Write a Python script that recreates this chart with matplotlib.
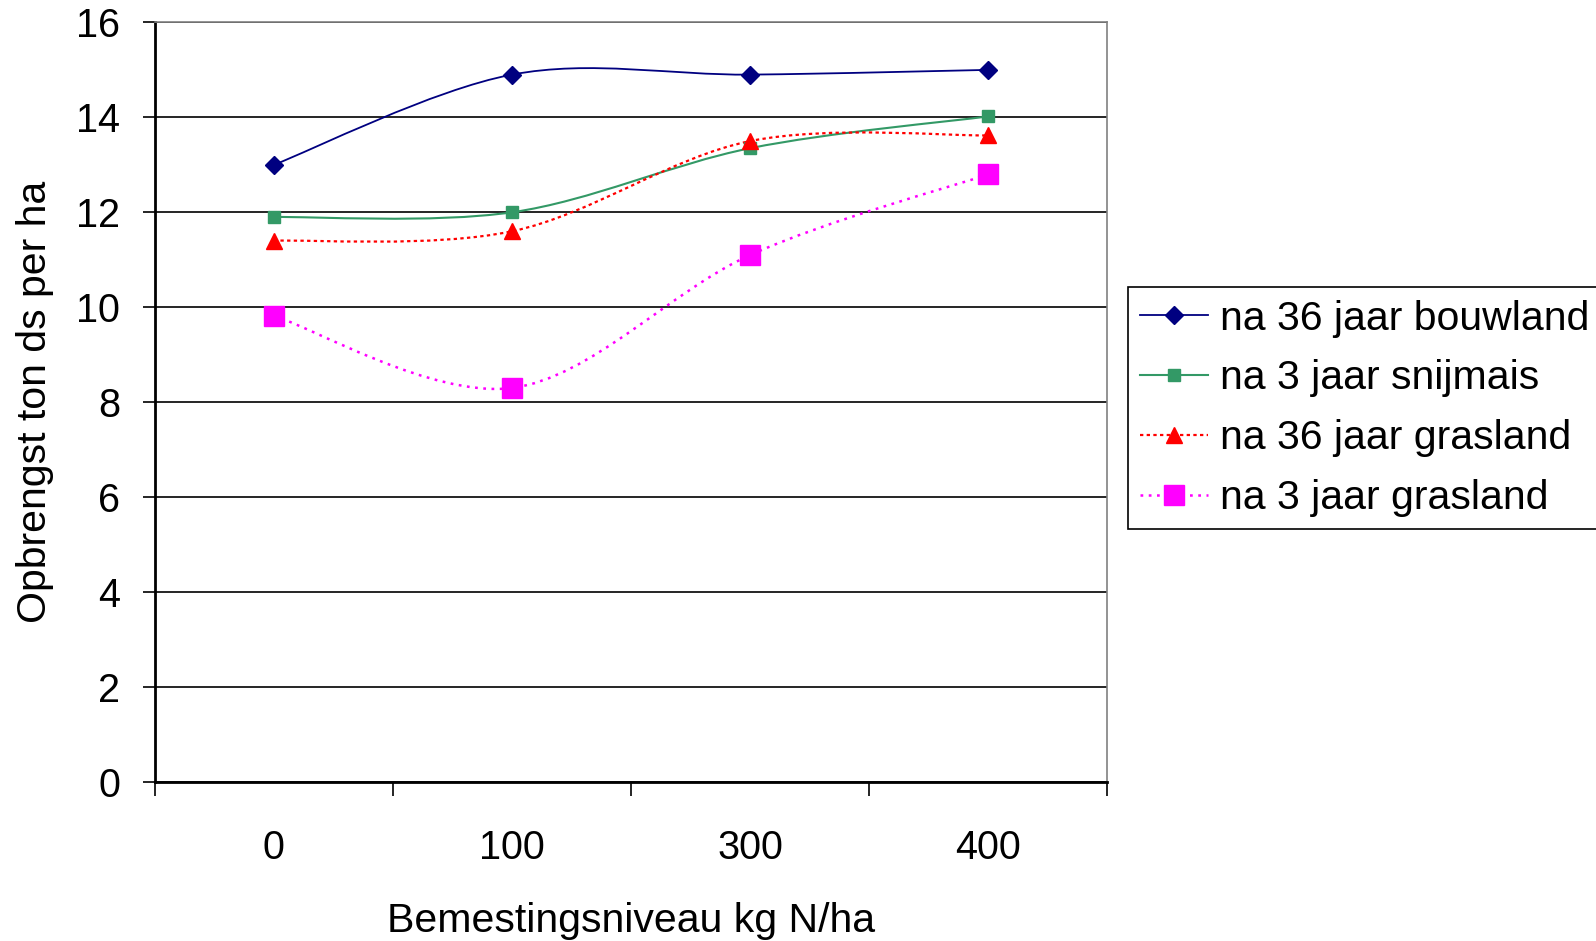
import matplotlib.pyplot as plt
from matplotlib.path import Path
from matplotlib.patches import PathPatch
from matplotlib.lines import Line2D

plt.rcParams['font.family'] = ['Liberation Sans', 'DejaVu Sans']

categories = ['0', '100', '300', '400']
bouwland_36 = [13.0, 14.9, 14.9, 15.0]
snijmais_3 = [11.9, 12.0, 13.35, 14.02]
grasland_36 = [11.4, 11.6, 13.5, 13.62]
grasland_3 = [9.82, 8.3, 11.1, 12.8]
labels = ['na 36 jaar bouwland', 'na 3 jaar snijmais', 'na 36 jaar grasland', 'na 3 jaar grasland']


def smoothPath(xs, ys):
    # excel-like smoothed line: cubic bezier through the points
    pts = list(zip(xs, ys))
    n = len(pts)
    verts = [pts[0]]
    codes = [Path.MOVETO]
    for i in range(n - 1):
        p0 = pts[max(i - 1, 0)]
        p1 = pts[i]
        p2 = pts[i + 1]
        p3 = pts[min(i + 2, n - 1)]
        c1 = (p1[0] + (p2[0] - p0[0]) / 6, p1[1] + (p2[1] - p0[1]) / 6)
        c2 = (p2[0] - (p3[0] - p1[0]) / 6, p2[1] - (p3[1] - p1[1]) / 6)
        verts += [c1, c2, p2]
        codes += [Path.CURVE4] * 3
    return Path(verts, codes)


fig = plt.figure(figsize=(15.96, 9.41), dpi=100)
ax = fig.add_axes([0.0969, 0.169, 0.597, 0.8072])

x = list(range(len(categories)))
series = [
    (bouwland_36, '#000080', '-', 'D', 9, 1.3),
    (snijmais_3, '#339966', '-', 's', 9, 1.5),
    (grasland_36, '#ff0000', (0, (1.5, 1.5)), '^', 11, 1.6),
    (grasland_3, '#ff00ff', (0, (1.1, 2.2)), 's', 14, 1.8),
]
handles = []
for (vals, col, ls, mk, ms, lw), lab in zip(series, labels):
    ax.add_patch(PathPatch(smoothPath(x, vals), fill=False, edgecolor=col,
                           linestyle=ls, linewidth=lw, zorder=3))
    ax.plot(x, vals, linestyle='none', marker=mk, markersize=ms, color=col, zorder=4)
    handles.append(Line2D([], [], color=col, linestyle=ls, linewidth=lw,
                          marker=mk, markersize=ms))

ax.set_xlim(-0.5, 3.5)
ax.set_ylim(0, 16)
ax.set_yticks(range(0, 17, 2))
ax.grid(axis='y', color='black', linewidth=1.2)
ax.set_axisbelow(True)

ax.set_xticks([-0.5, 0.5, 1.5, 2.5, 3.5])
ax.set_xticklabels([])
ax.set_xticks(x, minor=True)
ax.set_xticklabels(categories, minor=True)
ax.tick_params(axis='x', which='major', direction='out', length=10, width=1.2)
ax.tick_params(axis='x', which='minor', length=0, pad=34, labelsize=28.5)
ax.tick_params(axis='y', direction='out', length=9, width=1.2, pad=16, labelsize=28.5)

for s in ['top', 'right']:
    ax.spines[s].set_color('#808080')
    ax.spines[s].set_linewidth(1.2)
ax.spines['left'].set_linewidth(2)
ax.spines['bottom'].set_linewidth(2)

ax.set_xlabel('Bemestingsniveau kg N/ha', fontsize=29.5, labelpad=25)
ax.set_ylabel('Opbrengst ton ds per ha', fontsize=29.5, labelpad=15.5)

leg = fig.legend(handles, labels, loc='upper left', bbox_to_anchor=(0.7068, 0.6945),
                 fontsize=29.5, frameon=True, fancybox=False, framealpha=1,
                 edgecolor='black', borderpad=0.3, handlelength=1.65,
                 handletextpad=0.3, labelspacing=0.53, borderaxespad=0)
leg.get_frame().set_linewidth(1.2)

fig.savefig('out.png', dpi=100)
